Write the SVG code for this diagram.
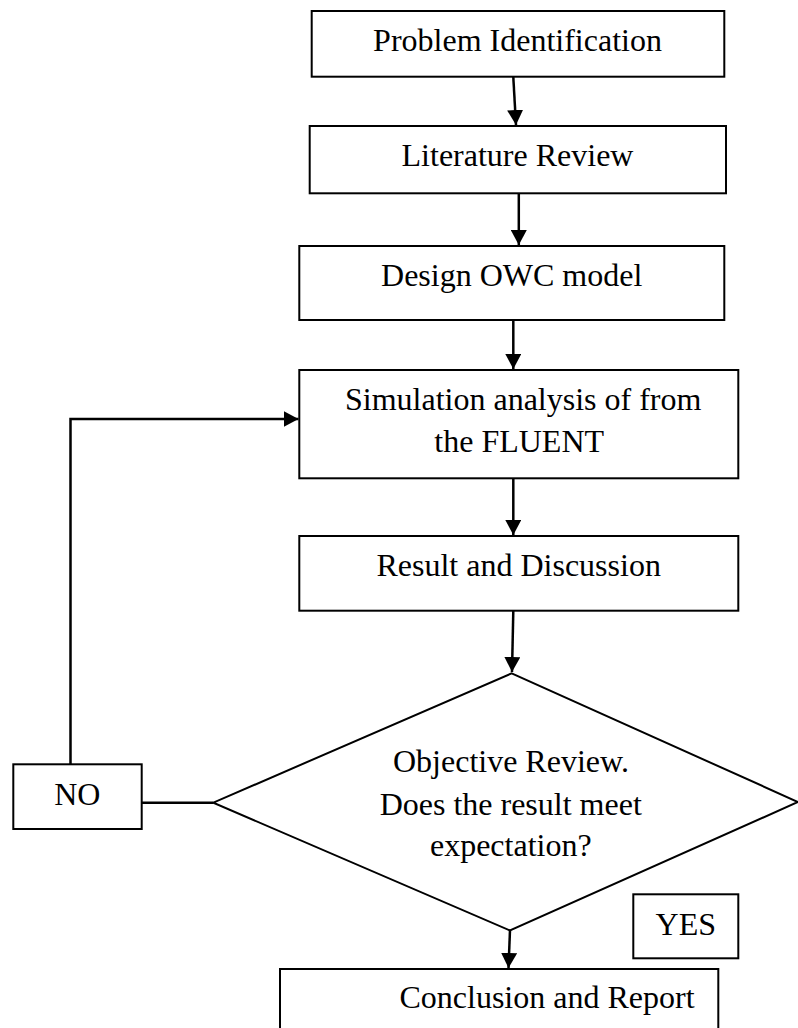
<svg xmlns="http://www.w3.org/2000/svg" width="798" height="1028" viewBox="0 0 798 1028">
<style>
  .box { fill: #ffffff; stroke: #000000; stroke-width: 2; }
  .lbl { font-family: "Liberation Serif", "Times New Roman", serif; font-size: 32px; fill: #000000; text-anchor: middle; }
  .conn { fill: none; stroke: #000000; stroke-width: 2.5; }
</style>
<defs>
  <marker id="arrow" markerUnits="userSpaceOnUse" markerWidth="16" markerHeight="16" refX="15" refY="8" orient="auto">
    <path d="M0,0 L15,8 L0,16 z" fill="#000000"/>
  </marker>
</defs>
<rect width="798" height="1028" fill="#ffffff"/>
<g id="connectors">
  <line class="conn" x1="513.3" y1="77" x2="516" y2="125" marker-end="url(#arrow)"/>
  <line class="conn" x1="518.8" y1="193" x2="518.8" y2="245" marker-end="url(#arrow)"/>
  <line class="conn" x1="513.3" y1="320" x2="513.3" y2="369" marker-end="url(#arrow)"/>
  <line class="conn" x1="513.3" y1="478" x2="513.3" y2="535" marker-end="url(#arrow)"/>
  <line class="conn" x1="513.3" y1="611" x2="512" y2="672" marker-end="url(#arrow)"/>
  <line class="conn" x1="510" y1="930" x2="508.5" y2="968" marker-end="url(#arrow)"/>
  <line class="conn" x1="141.7" y1="802.7" x2="213.3" y2="802.7"/>
  <polyline class="conn" points="70.5,764.3 70.5,419 298.5,419" marker-end="url(#arrow)"/>
</g>
<g id="problem">
  <rect class="box" x="311.7" y="11" width="412.6" height="65.7"/>
  <text class="lbl" x="517.5" y="50.7">Problem Identification</text>
</g>
<g id="literature">
  <rect class="box" x="309.7" y="126" width="416.3" height="67.3"/>
  <text class="lbl" x="517.5" y="165.7">Literature Review</text>
</g>
<g id="design">
  <rect class="box" x="299.3" y="246" width="425" height="74"/>
  <text class="lbl" x="511.7" y="285.7">Design OWC model</text>
</g>
<g id="simulation">
  <rect class="box" x="299.3" y="370" width="439" height="108.3"/>
  <text class="lbl" x="523.2" y="410">Simulation analysis of from</text>
  <text class="lbl" x="519.2" y="452.3">the FLUENT</text>
</g>
<g id="result">
  <rect class="box" x="299.3" y="536" width="439" height="74.7"/>
  <text class="lbl" x="518.7" y="576">Result and Discussion</text>
</g>
<g id="decision">
  <polygon class="box" points="511.7,673.3 798,802 510,930.5 213.3,802.7"/>
  <text class="lbl" x="511" y="771.7">Objective Review.</text>
  <text class="lbl" x="510.7" y="815">Does the result meet</text>
  <text class="lbl" x="510.8" y="856">expectation?</text>
</g>
<g id="no">
  <rect class="box" x="13.3" y="764.3" width="128.4" height="64.7"/>
  <text class="lbl" x="77.3" y="805">NO</text>
</g>
<g id="yes">
  <rect class="box" x="633.3" y="894.3" width="105" height="64"/>
  <text class="lbl" x="685.8" y="935">YES</text>
</g>
<g id="conclusion">
  <rect class="box" x="280" y="969" width="438.3" height="70"/>
  <text class="lbl" x="547" y="1008.3">Conclusion and Report</text>
</g>
</svg>
